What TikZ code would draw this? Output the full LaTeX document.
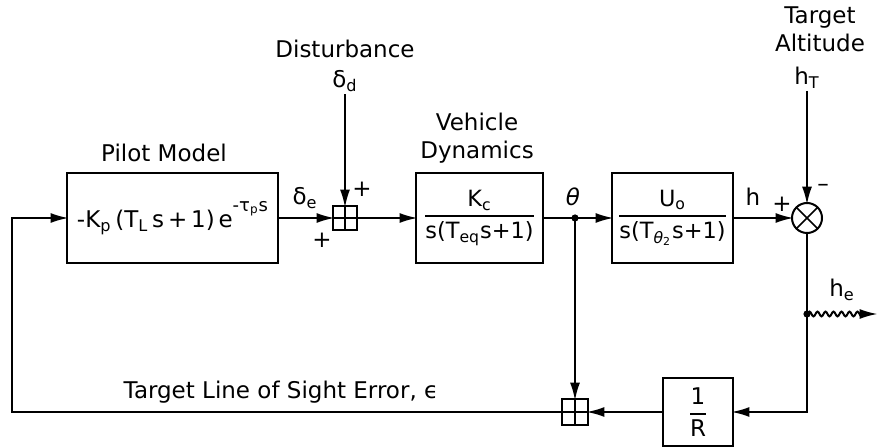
\documentclass[tikz,border=0pt]{standalone}
\usepackage{amsmath}
\usepackage{fontspec}
\setmainfont{DejaVu Sans}
\usepackage{tikz}
\usetikzlibrary{arrows.meta,              % pointes de fleches
                decorations.pathmorphing} % trait ondule de la sortie
\newcommand{\fracbloc}[2]{$\genfrac{}{}{0.8pt}{0}{\text{#1}}{\text{#2}}$}

\begin{document}
\begin{tikzpicture}[x=0.5pt,y=-0.5pt,font=\fontsize{11.5}{14}\selectfont,
  bloc/.style={draw,line width=1.4pt,minimum height=45pt,inner sep=0.5pt,outer sep=0pt},
  somme/.style={draw,line width=1pt,minimum size=12pt,inner sep=0pt,outer sep=0pt,
    path picture={\draw[line width=0.8pt]
      (path picture bounding box.north)--(path picture bounding box.south)
      (path picture bounding box.west)--(path picture bounding box.east);}},
  fl/.style={line width=1pt,-{Latex[length=9pt,width=5pt]},shorten >=-0.8pt},
  lab/.style={inner sep=1pt}]
\useasboundingbox (0,0) rectangle (877,448);
\node[bloc,minimum width=105.5pt] (pilot) at (172.5,218)
  {-K\textsubscript{p}\,(T\textsubscript{L}\,s\,+\,1)\,e\raisebox{1.3ex}{\small -τ\textsubscript{p}s}};
\node[somme] (sum1) at (345,218) {};
\node[bloc,minimum width=63.5pt,font=\fontsize{11.2}{13}\selectfont] (veh) at (479.5,218)
  {\fracbloc{K\textsubscript{c}}{s(T\textsubscript{eq}s+1)}};
\node[bloc,minimum width=60.5pt,font=\fontsize{11.2}{13}\selectfont] (pitch) at (672.5,218)
  {\fracbloc{U\textsubscript{o}}{s(T\textsubscript{\itshape θ\upshape\textsubscript{2}}s+1)}};
\node[circle,draw,line width=1pt,minimum size=15pt,inner sep=0pt,outer sep=0pt] (mult) at (807,218) {};
\draw[line width=0.8pt] (mult.north east)--(mult.south west) (mult.north west)--(mult.south east);
\node[bloc,minimum width=35pt,minimum height=34pt] (invR) at (698,412)
  {\fracbloc{1}{R}};
\node[somme,minimum size=13pt] (sum2) at (575,412) {};
\coordinate (thj) at (575,218);
\coordinate (hej) at (807,314);
\coordinate (heout) at (876,314);
\coordinate (rc) at (807,412);
\coordinate (fbl) at (12,412);
\coordinate (fbt) at (12,218);
% textes
\node[lab] (lpilot) at (164,153) {Pilot Model};
\node[lab] (ldist) at (345,49) {Disturbance};
\node[lab] (ldd) at (345,81) {δ\textsubscript{d}};
\node[lab,align=center] (lveh) at (477,138) {Vehicle\\Dynamics};
\node[lab,align=center] (ltarget) at (820,29) {Target\\Altitude};
\node[lab] (lhT) at (807,78) {h\textsubscript{T}};
\node[lab] (lde) at (305,198) {δ\textsubscript{e}};
\node[lab] (lp1) at (362,189) {+};
\node[lab] (lp2) at (322,240) {+};
\node[lab] (lth) at (573,197) {\itshape θ};
\node[lab] (lh) at (753,197) {h};
\node[lab] (lp3) at (782,204) {+};
\node[lab] (lm) at (823,188) {\textendash};
\node[lab] (lhe) at (842,290) {h\textsubscript{e}};
\node[lab] (lerr) at (281,392) {Target Line of Sight Error, ϵ};
% liaisons
\draw[fl] (pilot) -- (sum1);
\draw[fl] (ldd) -- (sum1);
\draw[fl] (sum1) -- (veh);
\draw[line width=1pt] (veh) -- (thj);
\draw[fl] (thj) -- (pitch);
\draw[fl] (pitch) -- (mult);
\draw[fl] (lhT) -- (mult);
\draw[fl] (thj) -- (sum2);
\draw[fl] (mult) -- (rc) -- (invR);
\draw[fl] (invR) -- (sum2);
\draw[fl] (sum2) -- (fbl) -- (fbt) -- (pilot);
\draw[fl,decorate,decoration={snake,amplitude=1.2pt,segment length=4pt,post length=6pt}]
  (hej) -- (heout);
\fill (thj) circle (1.8pt);
\fill (hej) circle (1.8pt);
\end{tikzpicture}
\end{document}
